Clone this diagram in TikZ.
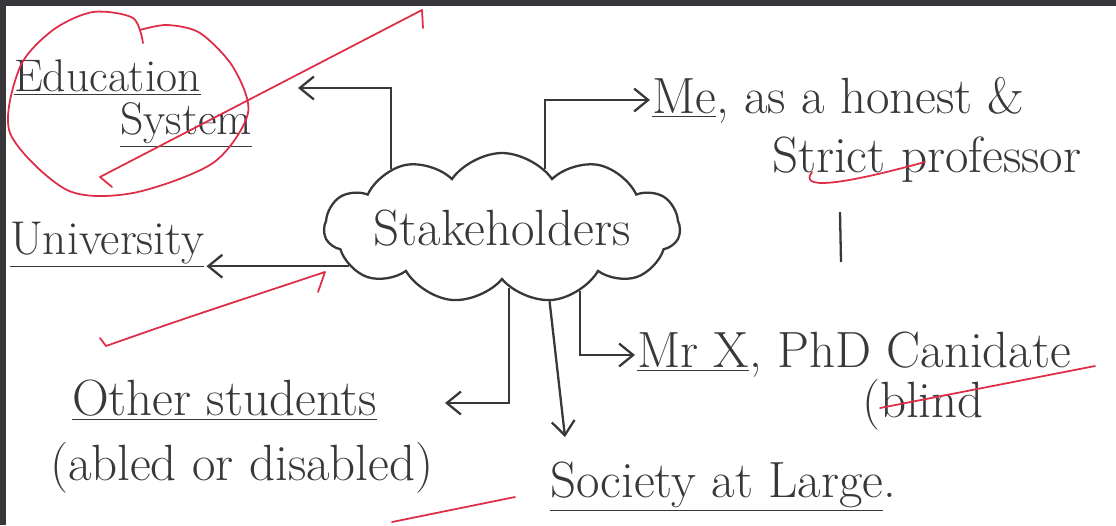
\documentclass[tikz,border=0pt]{standalone}
\usepackage{tikz}
\usetikzlibrary{shapes.symbols,positioning,arrows.meta}

\definecolor{ink}{RGB}{55,55,60}
\definecolor{pen}{RGB}{222,45,70}

\begin{document}
\begin{tikzpicture}[x=0.02cm, y=-0.02cm, >={Straight Barb[length=8pt,width=13pt]},
		txt/.style={anchor=west, text=ink, inner sep=1pt, font=\fontsize{29}{34}\selectfont},
		conn/.style={->, draw=ink, line width=1.3pt},
		redpen/.style={draw=pen, line width=1pt, line cap=round, line join=round}]
		\useasboundingbox (0,0) rectangle (1116,525);
		% frame
		\draw[ink, line width=3pt] (0,3) -- (1116,3);
		\draw[ink, line width=3pt] (3,0) -- (3,525);

		\node[cloud, draw=ink, line width=1.3pt, cloud puffs=11, cloud puff arc=110, cloud ignores aspect, inner sep=0pt,
			minimum width=5.85cm, minimum height=3.0cm, text=ink, font=\fontsize{29}{34}\selectfont] (st) at (502,228) {Stakeholders};

		\node[txt, font=\fontsize{26}{30}\selectfont] (edu) at (12,78) {\underline{Education}};
		\node[txt, font=\fontsize{26}{30}\selectfont] (sys) at (118,125) {\underline{System}};
		\node[txt, font=\fontsize{27}{30}\selectfont] (uni) at (8,245) {\underline{University}};
		\node[txt] (me) at (650,100) {\underline{Me}, as a honest \&};
		\node[txt] (prof) at (770,160) {Strict professor};
		\node[txt] (mrx) at (635,355) {\underline{Mr X}, PhD Canidate};
		\node[txt] (blind) at (860,405) {(blind};
		\node[txt] (oth) at (70,400) {\underline{Other students}};
		\node[txt] (abl) at (48,468) {(abled or disabled)};
		\node[txt] (soc) at (548,487) {\underline{Society at Large}.};

		\coordinate (eduend) at (298,88);
		\coordinate (othend) at (445,403);
		\coordinate (socend) at (565,437);

		\draw[conn] (st.152) |- (eduend);
		\draw[conn] (st.194) -- (st.194 -| uni.east);
		\draw[conn] (st.54) |- (me.west);
		\draw[conn] (st.321) |- (mrx.west);
		\draw[conn] (st.277) |- (othend);
		\draw[conn] (st.303) -- (socend);
		\draw[ink, line width=1.3pt] (840,212) -- (841,262);

		% red marks
		\draw[redpen] plot[smooth] coordinates {(140,30) (167,25) (200,33) (233,67) (248,113) (213,163) (133,193) (67,190) (10,133) (20,67) (53,30) (93,12) (133,18) (143,43)};
		\draw[redpen] (112,187) -- (100,177) -- (422,10) -- (423,28);
		\draw[redpen] (100,338) -- (106,346) .. controls (180,320) .. (325,272) -- (318,292);
		\draw[redpen] (812,172) .. controls (800,188) and (830,188) .. (925,162);
		\draw[redpen] (880,408) -- (1095,366);
		\draw[redpen] (392,522) -- (515,497);
	\end{tikzpicture}
\end{document}
